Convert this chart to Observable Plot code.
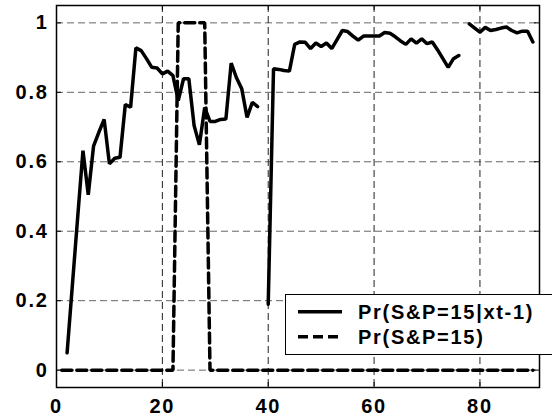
<!DOCTYPE html>
<html>
<head>
<meta charset="utf-8">
<script src="https://cdn.jsdelivr.net/npm/d3@7"></script>
<script src="https://cdn.jsdelivr.net/npm/@observablehq/plot@0.6"></script>
<style>
  html, body { margin: 0; padding: 0; background: #fff; }
  body { width: 552px; height: 420px; overflow: hidden; position: relative;
         font-family: "Liberation Sans", Arial, Helvetica, sans-serif; }
  #chart { position: absolute; left: 0; top: 0; }
  #legend { position: absolute; left: 285px; top: 294px; width: 300px; height: 61px;
            border: 1px solid #000; background: #fff; box-sizing: border-box; }
  #legend svg { position: absolute; left: -1px; top: -1px; overflow: visible; }
  #legend text { font-family: "Liberation Sans", Arial, Helvetica, sans-serif;
                 font-weight: bold; font-size: 20px; letter-spacing: 1.7px; fill: #000; }
</style>
</head>
<body>
<div id="chart"></div>
<div id="legend"></div>
<script>
// ---- data ----
const startIndex = 1; // first time index
const condProb = [ // Pr(S&P=15|xt-1), t = 1..90 (null = gap)
  null, 0.05, 0.245, 0.44, 0.632, 0.505, 0.645, 0.685, 0.722, 0.594,
  0.61, 0.613, 0.765, 0.757, 0.928, 0.92, 0.897, 0.872, 0.87, 0.853,
  0.861, 0.848, 0.776, 0.839, 0.839, 0.704, 0.649, 0.756, 0.716, 0.716,
  0.722, 0.723, 0.884, 0.842, 0.81, 0.728, 0.771, 0.759, null, 0.19,
  0.868, 0.866, 0.863, 0.861, 0.938, 0.945, 0.944, 0.926, 0.942, 0.932,
  0.942, 0.926, 0.952, 0.978, 0.975, 0.962, 0.95, 0.962, 0.962, 0.962,
  0.962, 0.972, 0.97, 0.96, 0.948, 0.938, 0.954, 0.942, 0.954, 0.94,
  0.945, 0.922, 0.897, 0.872, 0.897, 0.906, null, 0.997, 0.985, 0.973,
  0.987, 0.978, 0.981, 0.985, 0.988, 0.978, 0.971, 0.976, 0.976, 0.945
];
const uncondProb = [ // Pr(S&P=15), t = 1..90
  0, 0, 0, 0, 0, 0, 0, 0, 0, 0,
  0, 0, 0, 0, 0, 0, 0, 0, 0, 0,
  0, 0, 1, 1, 1, 1, 1, 1, 0, 0,
  0, 0, 0, 0, 0, 0, 0, 0, 0, 0,
  0, 0, 0, 0, 0, 0, 0, 0, 0, 0,
  0, 0, 0, 0, 0, 0, 0, 0, 0, 0,
  0, 0, 0, 0, 0, 0, 0, 0, 0, 0,
  0, 0, 0, 0, 0, 0, 0, 0, 0, 0,
  0, 0, 0, 0, 0, 0, 0, 0, 0, 0
];
const seriesNames = ["Pr(S&P=15|xt-1)", "Pr(S&P=15)"];
const xTicks = [0, 20, 40, 60, 80];
const yTicks = [0, 0.2, 0.4, 0.6, 0.8, 1];
const xDomain = [0, 91.25];
const yDomain = [-0.05, 1.05];

const cond = condProb.map((v, i) => ({t: i + startIndex, p: v}));
const uncond = uncondProb.map((v, i) => ({t: i + startIndex, p: v}));

const W = 552, H = 420, mL = 56, mR = 13, mT = 5, mB = 33;
const frameW = W - mL - mR, frameH = H - mT - mB, tk = 5;

const font = `"Liberation Sans", Arial, Helvetica, sans-serif`;

const chart = Plot.plot({
  width: W, height: H,
  marginLeft: mL, marginRight: mR, marginTop: mT, marginBottom: mB,
  x: {domain: xDomain},
  y: {domain: yDomain},
  style: {background: "#fff", fontFamily: font, fontSize: "20px", fontWeight: "bold",
          color: "#000", overflow: "visible", letterSpacing: "1.7px"},
  marks: [
    Plot.ruleY(yTicks, {y: d => d, stroke: "#666", strokeWidth: 1, strokeDasharray: "7,4"}),
    Plot.ruleX(xTicks, {x: d => d, stroke: "#222", strokeWidth: 1, strokeDasharray: "7,4"}),
    Plot.line(uncond, {x: "t", y: "p", stroke: "#000", strokeWidth: 3.5, strokeDasharray: "10,5", strokeLinejoin: "miter"}),
    Plot.line(cond, {x: "t", y: "p", stroke: "#000", strokeWidth: 3.5, strokeLinejoin: "miter"}),
    Plot.frame({stroke: "#000", strokeWidth: 1.5}),
    Plot.ruleX(xTicks, {x: d => d, stroke: "#000", insetTop: frameH - tk}),
    Plot.ruleX(xTicks, {x: d => d, stroke: "#000", insetBottom: frameH - tk}),
    Plot.ruleY(yTicks, {y: d => d, stroke: "#000", insetRight: frameW - tk}),
    Plot.ruleY(yTicks, {y: d => d, stroke: "#000", insetLeft: frameW - tk}),
    Plot.axisX(xTicks, {tickSize: 0, tickPadding: 11, label: null, tickFormat: d => String(d)}),
    Plot.axisY(yTicks, {tickSize: 0, tickPadding: 8, label: null, tickFormat: d => String(d)})
  ]
});
document.getElementById("chart").append(chart);

// legend (inside the axes, lower right, as in the reference)
const ns = "http://www.w3.org/2000/svg";
const lsvg = document.createElementNS(ns, "svg");
lsvg.setAttribute("width", 300); lsvg.setAttribute("height", 61);
const rows = [
  {name: seriesNames[0], dash: null, y: 17.7, base: 24.6},
  {name: seriesNames[1], dash: "10,5", y: 42.7, base: 50.3}
];
rows.forEach(r => {
  const ln = document.createElementNS(ns, "line");
  ln.setAttribute("x1", 13); ln.setAttribute("x2", 57);
  ln.setAttribute("y1", r.y); ln.setAttribute("y2", r.y);
  ln.setAttribute("stroke", "#000"); ln.setAttribute("stroke-width", 3.5);
  if (r.dash) ln.setAttribute("stroke-dasharray", r.dash);
  lsvg.append(ln);
  const tx = document.createElementNS(ns, "text");
  tx.setAttribute("x", 73); tx.setAttribute("y", r.base);
  tx.textContent = r.name;
  lsvg.append(tx);
});
document.getElementById("legend").append(lsvg);
</script>
</body>
</html>
